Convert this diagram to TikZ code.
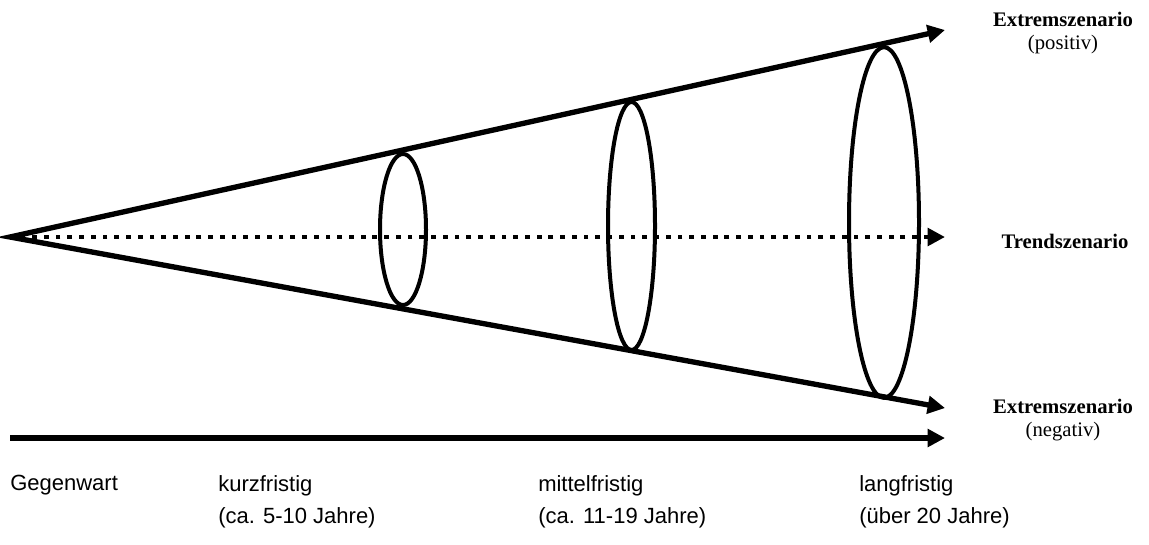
\documentclass[tikz,border=0pt]{standalone}
\usepackage{fontspec}
\setmainfont{Liberation Serif}
\setsansfont{Liberation Sans}
\usetikzlibrary{arrows.meta,shapes.geometric}
\tikzset{
  bigtip/.tip={Triangle[length=13pt,width=13pt]},
  tipstyle/.style={-bigtip},
  mainline/.style={line width=4pt},
  dotline/.style={line width=3.6pt,dash pattern=on 3.6pt off 5.2pt},
  horizon/.style={draw,ellipse,line width=3pt,inner sep=0pt},
  scenlabel/.style={font=\fontsize{15.5}{17.5}\selectfont,align=center},
  timelabel/.style={font=\sffamily\fontsize{16.5}{24}\selectfont,align=left,anchor=north west,inner sep=0pt}
}
\begin{document}
\begin{tikzpicture}[x=0.75pt,y=-0.75pt]
\useasboundingbox (0,0) rectangle (1149,544);
\coordinate (apex) at (10,237);
\coordinate (tup) at (945,30);
\coordinate (tlow) at (945,408);
\coordinate (tmid) at (945,237);
\coordinate (ax0) at (10,438);
\coordinate (ax1) at (945,438);
\draw[mainline,line join=miter,bigtip-bigtip] (tup) -- (apex) -- (tlow);
\draw[dotline,bigtip-] (tmid) -- ([xshift=5]apex);
\draw[mainline,tipstyle] (ax0) -- (ax1);
\node[horizon,minimum width=34.5pt,minimum height=113.25pt] (e1) at (403,229.5) {};
\node[horizon,minimum width=35.25pt,minimum height=186pt] (e2) at (631.5,226) {};
\node[horizon,minimum width=52.5pt,minimum height=263pt] (e3) at (884,222.5) {};
\node[scenlabel] (pos) at (1063,33) {\textbf{Extremszenario}\\(positiv)};
\node[scenlabel] (trend) at (1065,241) {\textbf{Trendszenario}};
\node[scenlabel] (neg) at (1063,420) {\textbf{Extremszenario}\\(negativ)};
\node[timelabel] (g) at (10,475) {Gegenwart};
\node[timelabel] (k) at (218,475) {kurzfristig\\(ca. 5-10 Jahre)};
\node[timelabel] (m) at (538,475) {mittelfristig\\(ca. 11-19 Jahre)};
\node[timelabel] (l) at (859,475) {langfristig\\(über 20 Jahre)};
\end{tikzpicture}
\end{document}
